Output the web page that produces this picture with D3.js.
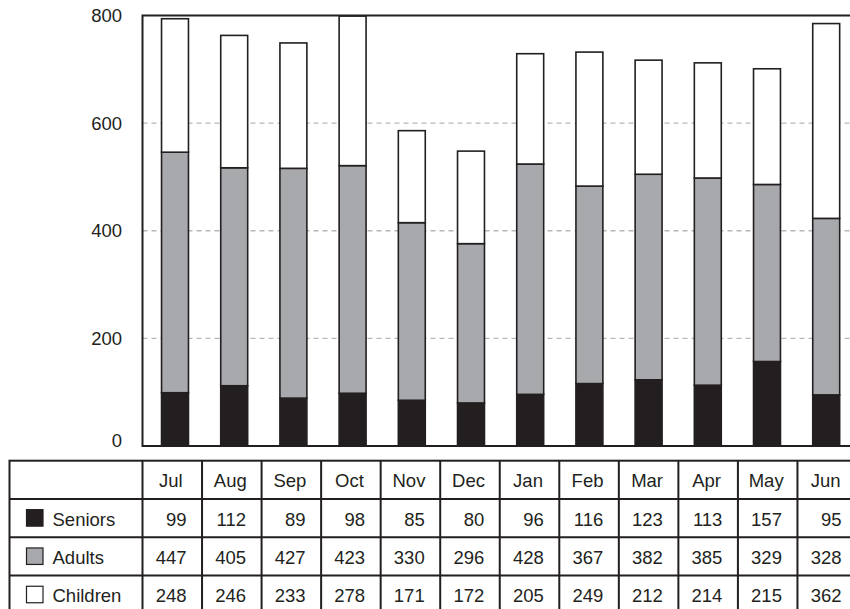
<!DOCTYPE html>
<html>
<head>
<meta charset="utf-8">
<script src="https://cdn.jsdelivr.net/npm/d3@7"></script>
<style>
  html, body { margin: 0; padding: 0; background: #fff; }
  svg { display: block; }
  text { font-family: "Liberation Sans", Arial, Helvetica, sans-serif; fill: #231f20; }
</style>
</head>
<body>
<svg id="chart" width="850" height="609"></svg>
<script>
// Monthly attendance by age group
const months   = ["Jul", "Aug", "Sep", "Oct", "Nov", "Dec", "Jan", "Feb", "Mar", "Apr", "May", "Jun"];
const seniors  = [99, 112, 89, 98, 85, 80, 96, 116, 123, 113, 157, 95];
const adults   = [447, 405, 427, 423, 330, 296, 428, 367, 382, 385, 329, 328];
const children = [248, 246, 233, 278, 171, 172, 205, 249, 212, 214, 215, 362];
const yTicks   = [0, 200, 400, 600, 800];

const seriesNames = ["Seniors", "Adults", "Children"];
const seriesValues = [seniors, adults, children];
const fills = { Seniors: "#231f20", Adults: "#a7a9ac", Children: "#ffffff" };
const ink = "#231f20";

const svg = d3.select("#chart");

// Layout
const plotLeft = 142.5, plotRight = 857, plotTop = 15.5, plotBottom = 446;
const tableLeft = 9.5, tableTop = 460.7, rowH = 38.3;
const fontSize = 18.5;

const rows = months.map((m, i) => ({ month: m, Seniors: seniors[i], Adults: adults[i], Children: children[i] }));
const stacked = d3.stack().keys(seriesNames)(rows);

const y = d3.scaleLinear().domain([0, 800]).range([plotBottom, plotTop]);
const xBars = d3.scaleBand().domain(months).range([145.4, 855.8]).paddingInner(0.545).paddingOuter(0.2725);
const xCols = d3.scaleBand().domain(months).range([plotLeft, plotRight]);

// Grid lines
svg.append("g")
  .selectAll("line")
  .data(yTicks.filter(v => v > 0 && v < 800))
  .join("line")
  .attr("x1", plotLeft).attr("x2", plotRight)
  .attr("y1", d => y(d)).attr("y2", d => y(d))
  .attr("stroke", "#b8b8b8").attr("stroke-width", 1.3)
  .attr("stroke-dasharray", "5,4");

// Y tick labels
svg.append("g")
  .selectAll("text")
  .data(yTicks)
  .join("text")
  .attr("x", 122)
  .attr("y", d => Math.min(y(d), plotBottom - 6))
  .attr("text-anchor", "end")
  .attr("dominant-baseline", "central")
  .attr("font-size", fontSize)
  .text(d => d);

// Stacked bars
svg.append("g")
  .selectAll("g")
  .data(stacked)
  .join("g")
  .attr("fill", d => fills[d.key])
  .selectAll("rect")
  .data(d => d)
  .join("rect")
  .attr("x", d => xBars(d.data.month))
  .attr("width", xBars.bandwidth())
  .attr("y", d => y(d[1]))
  .attr("height", d => y(d[0]) - y(d[1]))
  .attr("stroke", ink).attr("stroke-width", 1.6);

// Plot frame
svg.append("rect")
  .attr("x", plotLeft).attr("y", plotTop)
  .attr("width", plotRight - plotLeft).attr("height", plotBottom - plotTop)
  .attr("fill", "none").attr("stroke", ink).attr("stroke-width", 2);

// Data table
const table = svg.append("g");
const nRows = seriesNames.length + 1;
const tableBottom = tableTop + nRows * rowH;
const rowY = i => tableTop + i * rowH;

table.append("rect")
  .attr("x", tableLeft).attr("y", tableTop)
  .attr("width", plotRight - tableLeft).attr("height", tableBottom - tableTop)
  .attr("fill", "#fff").attr("stroke", ink).attr("stroke-width", 2);

// horizontal rules
table.selectAll("line.h")
  .data(d3.range(1, nRows))
  .join("line").attr("class", "h")
  .attr("x1", tableLeft).attr("x2", plotRight)
  .attr("y1", rowY).attr("y2", rowY)
  .attr("stroke", ink).attr("stroke-width", 2);

// vertical rules
table.selectAll("line.v")
  .data(months)
  .join("line").attr("class", "v")
  .attr("x1", d => xCols(d)).attr("x2", d => xCols(d))
  .attr("y1", tableTop).attr("y2", tableBottom)
  .attr("stroke", ink).attr("stroke-width", 2);

// header row
table.selectAll("text.month")
  .data(months)
  .join("text").attr("class", "month")
  .attr("x", d => xCols(d) + xCols.bandwidth() / 2 - 1.5)
  .attr("y", rowY(0) + rowH / 2 + 1)
  .attr("text-anchor", "middle")
  .attr("dominant-baseline", "central")
  .attr("font-size", fontSize)
  .text(d => d);

// series rows: legend swatch, name, values
seriesNames.forEach((name, si) => {
  const top = rowY(si + 1);
  const mid = top + rowH / 2;
  table.append("rect")
    .attr("x", 26.5).attr("y", mid - 8.5)
    .attr("width", 16.5).attr("height", 16.5)
    .attr("fill", fills[name]).attr("stroke", ink).attr("stroke-width", 1.2);
  table.append("text")
    .attr("x", 52.5).attr("y", mid + 1)
    .attr("dominant-baseline", "central")
    .attr("font-size", fontSize)
    .text(name);
  table.selectAll("text.v" + si)
    .data(seriesValues[si])
    .join("text").attr("class", "v" + si)
    .attr("x", (d, i) => xCols(months[i]) + xCols.bandwidth() - 15.5)
    .attr("y", mid + 1)
    .attr("text-anchor", "end")
    .attr("dominant-baseline", "central")
    .attr("font-size", fontSize)
    .text(d => d);
});
</script>
</body>
</html>
